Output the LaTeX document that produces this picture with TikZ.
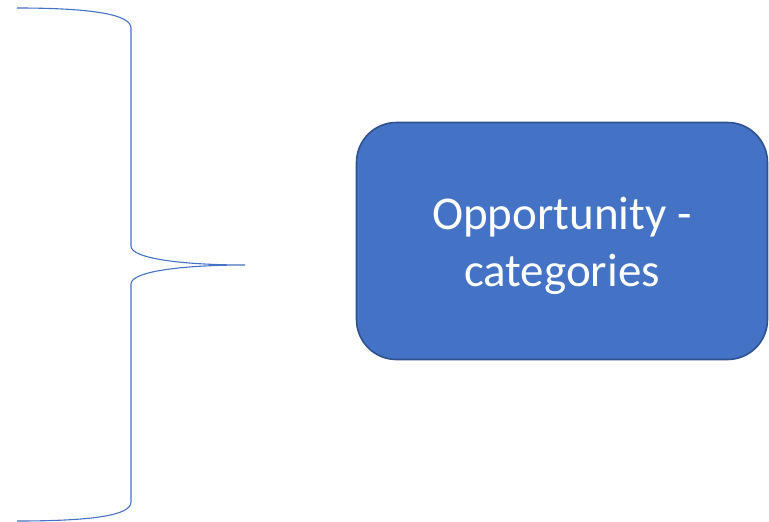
\documentclass[tikz,border=0pt]{standalone}
\usepackage{fontspec}
\setmainfont{Carlito}
\definecolor{boxfill}{HTML}{4472C4}
\definecolor{boxedge}{HTML}{2F528F}
\definecolor{bracecol}{HTML}{4472C4}
\begin{document}
\begin{tikzpicture}[x=1pt,y=-1pt,
  bracestyle/.style={draw=bracecol,line width=1.1pt},
  catbox/.style={draw=boxedge,fill=boxfill,line width=1.6pt,rounded corners=40pt,
    minimum width=411pt,minimum height=237pt,inner sep=0pt},
  cattext/.style={text=white,align=center,
    font=\fontsize{47}{57}\selectfont,inner sep=0pt}]
\useasboundingbox (0,0) rectangle (769,522);
\coordinate (btop) at (17,8);
\coordinate (bbot) at (17,521);
\coordinate (btip) at (245,265);
\draw[bracestyle] (btop) .. controls (95,8) and (131,15) .. (131,28)
  -- (131,246) .. controls (131,259) and (185,265) .. (btip)
  .. controls (185,265) and (131,271) .. (131,284)
  -- (131,502) .. controls (131,515) and (95,521) .. (bbot);
\node[catbox] (opp) at (562,241) {};
\node[cattext] (opptext) at ([yshift=-5pt]opp.center) {Opportunity -\\categories};
\end{tikzpicture}
\end{document}
